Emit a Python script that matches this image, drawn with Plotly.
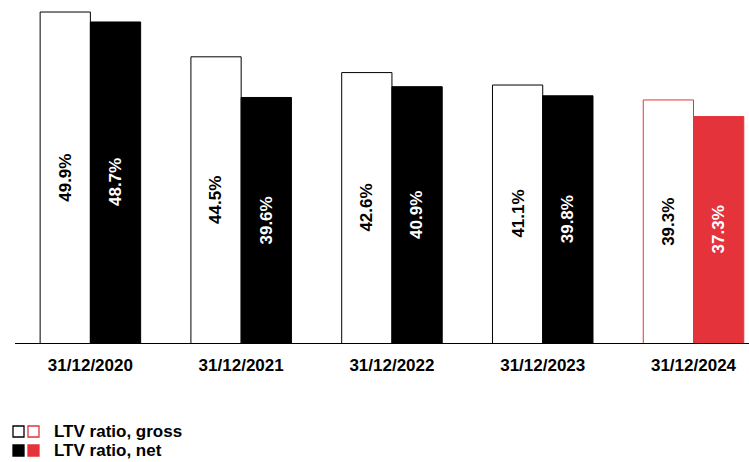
import plotly.graph_objects as go

# LTV ratios at each reporting date (%)
dates = ["31/12/2020", "31/12/2021", "31/12/2022", "31/12/2023", "31/12/2024"]
ltv_gross = [49.9, 44.5, 42.6, 41.1, 39.3]
ltv_net = [48.7, 39.6, 40.9, 39.8, 37.3]
legend_labels = ["LTV ratio, gross", "LTV ratio, net"]

RED = "#E4333B"
FONT = "Liberation Sans, Arial, Helvetica, sans-serif"

W, H = 749, 462
ML, MR, MT, MB = 15, 0, 0, 119
PW, PH = W - ML - MR, H - MT - MB
Y_MIN, Y_MAX = 10, 51.35
BARGAP = 1 / 3

# latest year highlighted in red
n = len(dates)
edge_colors = ["black"] * (n - 1) + [RED]
net_fill = ["black"] * (n - 1) + [RED]

fig = go.Figure()
fig.add_trace(go.Bar(
    x=dates, y=ltv_gross, name=legend_labels[0],
    marker=dict(color="white", line=dict(color=edge_colors, width=1)),
))
fig.add_trace(go.Bar(
    x=dates, y=ltv_net, name=legend_labels[1],
    marker=dict(color=net_fill, line=dict(color=net_fill, width=1)),
))

# rotated value labels, centred in the visible part of each bar
bar_w = (1 - BARGAP) / 2
annotations = []
for series, offset, colour in ((ltv_gross, -bar_w / 2, "black"),
                               (ltv_net, bar_w / 2, "white")):
    for i, v in enumerate(series):
        annotations.append(dict(
            x=i + offset, y=(Y_MIN + v) / 2, xref="x", yref="y",
            text=f"{v}%", textangle=-90, showarrow=False,
            xanchor="center", yanchor="middle",
            font=dict(family=FONT, size=17, color=colour, weight="bold"),
        ))


def px_x(px):
    return (px - ML) / PW


def px_y(py):
    return (H - MB - py) / PH


# custom legend: paired swatches (black / red) followed by the label
rows = [(426, 437, False, legend_labels[0]), (445, 456, True, legend_labels[1])]
shapes = []
for top, bottom, filled, label in rows:
    for (x0, x1), col in (((13, 24), "black"), ((28, 39), RED)):
        shapes.append(dict(
            type="rect", xref="paper", yref="paper",
            x0=px_x(x0), x1=px_x(x1), y0=px_y(bottom), y1=px_y(top),
            line=dict(color=col, width=1.3),
            fillcolor=col if filled else "white",
        ))
    annotations.append(dict(
        xref="paper", yref="paper", x=px_x(52), y=px_y((top + bottom) / 2),
        xanchor="left", yanchor="middle", showarrow=False, text=label,
        font=dict(family=FONT, size=17, color="black", weight="bold"),
    ))

fig.update_layout(
    width=W, height=H,
    margin=dict(l=ML, r=MR, t=MT, b=MB, pad=0),
    paper_bgcolor="white", plot_bgcolor="white",
    barmode="group", bargap=BARGAP, bargroupgap=0,
    showlegend=False,
    shapes=shapes, annotations=annotations,
    xaxis=dict(
        type="category", range=[-0.5, 4.368],
        showline=True, linecolor="black", linewidth=1.2,
        ticks="", showgrid=False, zeroline=False,
        tickfont=dict(family=FONT, size=17, color="black", weight="bold"),
        ticklabelstandoff=6,
    ),
    yaxis=dict(
        range=[Y_MIN, Y_MAX], visible=False, showgrid=False, zeroline=False,
    ),
)

fig.write_html("out.html")
